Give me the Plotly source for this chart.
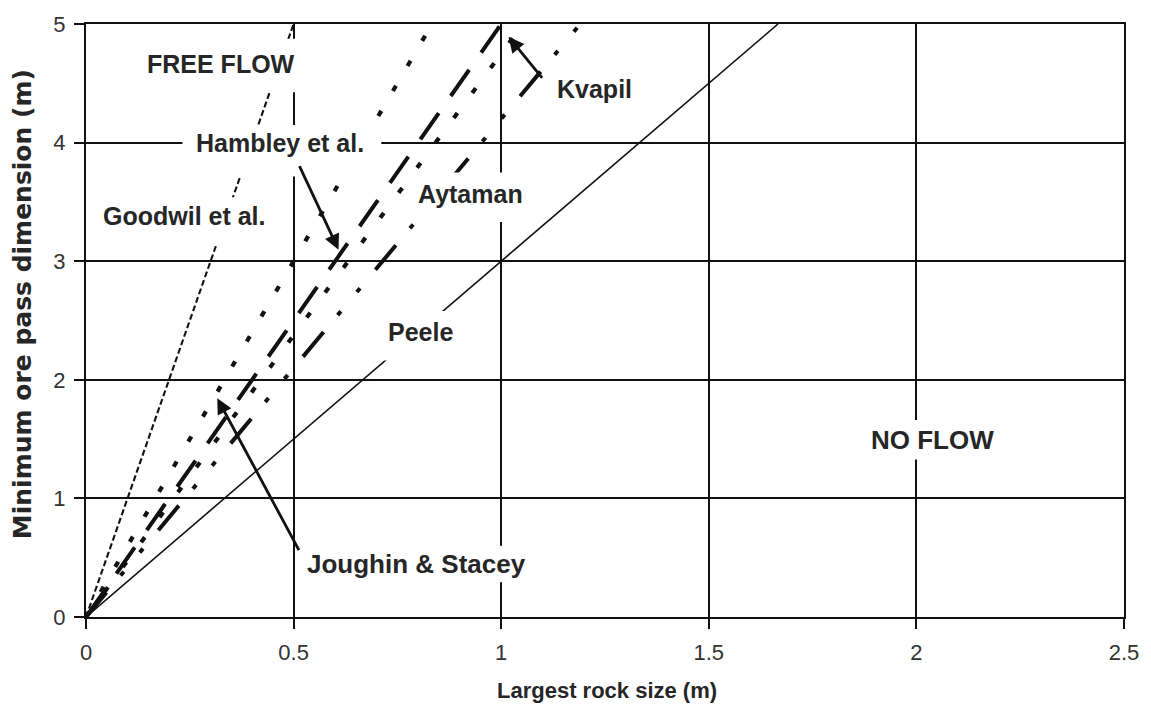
import plotly.graph_objects as go

# Empirical ore-pass sizing rules: minimum pass dimension = ratio x largest rock size
rule_names = ["Goodwil et al.", "Joughin & Stacey", "Hambley et al.", "Kvapil", "Aytaman", "Peele"]
size_ratios = [10.0, 6.0, 5.0, 4.75, 4.2, 3.0]
line_widths = [2.1, 4.2, 4.0, 4.2, 4.0, 1.6]
line_dashes = ["6px,3px", "6px,23px", "32px,21px", "6px,25px",
               "32px,22px,5px,25px,5px,24px", "solid"]

x_ticks = [0, 0.5, 1, 1.5, 2, 2.5]
x_tick_labels = ["0", "0.5", "1", "1.5", "2", "2.5"]
y_ticks = [0, 1, 2, 3, 4, 5]
y_tick_labels = ["0", "1", "2", "3", "4", "5"]
x_max = 2.5
y_max = 5.0

# page geometry (pixels)
W, H = 1151, 707
ML, MR, MT, MB = 86, 21, 18, 90
PW, PH = W - ML - MR, H - MT - MB


def dx(px):
    return (px - ML) / PW * x_max


def dy(py):
    return (H - MB - py) / PH * y_max


INK = "#111111"
TXT = "#262626"
SANS = "Liberation Sans, Arial"

fig = go.Figure()
for name, ratio, lw, dash in zip(rule_names, size_ratios, line_widths, line_dashes):
    fig.add_trace(go.Scatter(
        x=[0, y_max / ratio], y=[0, y_max], mode="lines", name=name,
        line=dict(color=INK, width=lw, dash=dash), showlegend=False,
        hoverinfo="skip"))

# text labels: (text, centre px, white box px [x0, x1, y0, y1], font size)
labels = [
    ("FREE FLOW", (222, 58), (138, 308, 33, 87), 25),
    ("Hambley et al.", (281, 138), (183, 383, 120, 172), 25),
    ("Goodwil et al.", (185, 212), (92, 282, 193, 242), 25),
    ("Aytaman", (473, 190), (412, 535, 168, 218), 25),
    ("Kvapil", (597, 84), (552, 642, 66, 104), 25),
    ("Peele", (422, 329), (384, 462, 308, 358), 25),
    ("NO FLOW", (937, 438), (868, 1006, 418, 458), 26),
    ("Joughin & Stacey", (418, 563), (300, 536, 545, 582), 26),
]

shapes = []
annotations = []
for text, (cx, cy), (x0, x1, y0, y1), fs in labels:
    shapes.append(dict(type="rect", xref="x", yref="y",
                       x0=dx(x0), x1=dx(x1), y0=dy(y1), y1=dy(y0),
                       fillcolor="white", line=dict(width=0), layer="above"))
    annotations.append(dict(text=text, x=dx(cx), y=dy(cy), xref="x", yref="y",
                            showarrow=False, xanchor="center", yanchor="middle",
                            font=dict(family=SANS, size=fs, color=TXT, weight="bold")))

# leader arrows: (tail px, head px)
arrows = [
    ((300, 160), (340, 246)),
    ((546, 74), (511, 31)),
    ((301, 551), (218, 396)),
]
for (tx, ty), (hx, hy) in arrows:
    annotations.append(dict(text="", x=dx(hx), y=dy(hy), ax=dx(tx), ay=dy(ty),
                            xref="x", yref="y", axref="x", ayref="y",
                            showarrow=True, arrowhead=2, arrowsize=1.1,
                            arrowwidth=2.8, arrowcolor=INK, standoff=0,
                            startstandoff=0))

# axis titles
annotations.append(dict(text="Largest rock size (m)", xref="paper", yref="paper",
                        x=0.5, xshift=2, y=0, yshift=-73, showarrow=False,
                        xanchor="center", yanchor="middle",
                        font=dict(family=SANS, size=22, color=TXT, weight="bold")))
annotations.append(dict(text="Minimum ore pass dimension (m)", xref="paper",
                        yref="paper", x=0, xshift=-64, y=(H - MB - 301) / PH,
                        textangle=-90, showarrow=False,
                        xanchor="center", yanchor="middle",
                        font=dict(family="DejaVu Sans, Arial", size=25,
                                  color=TXT, weight="bold")))

axis_common = dict(showgrid=True, gridcolor=INK, gridwidth=2, showline=True,
                   linecolor=INK, linewidth=2, mirror=True, ticks="outside",
                   ticklen=10, tickwidth=2, tickcolor=INK, zeroline=False)

fig.update_layout(
    width=W, height=H,
    margin=dict(l=ML, r=MR, t=MT, b=MB),
    paper_bgcolor="white", plot_bgcolor="white",
    xaxis=dict(range=[0, x_max], tickvals=x_ticks, ticktext=x_tick_labels,
               tickfont=dict(family=SANS, size=22, color="#333"),
               ticklabelstandoff=5, **axis_common),
    yaxis=dict(range=[0, y_max], tickvals=y_ticks, ticktext=y_tick_labels,
               tickfont=dict(family=SANS, size=22, color="#333"),
               ticklabelstandoff=4, **axis_common),
    shapes=shapes,
    annotations=annotations,
)

fig.write_html("out.html")
